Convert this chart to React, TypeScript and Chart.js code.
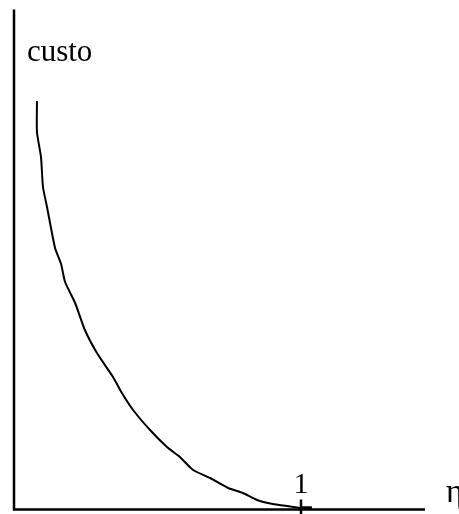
import React, { useEffect, useRef } from "react";
import { Chart, registerables } from "chart.js";

Chart.register(...registerables);

// Curve: cost vs eta (arbitrary units, eta = 1 at the tick)
const curveX = [0.080, 0.080, 0.094, 0.101, 0.115, 0.143, 0.164, 0.178, 0.213, 0.247, 0.289, 0.345, 0.376, 0.415, 0.474, 0.533, 0.578, 0.624, 0.683, 0.746, 0.798, 0.847, 0.902, 0.951, 0.997];
const curveY = [4.085, 3.775, 3.525, 3.225, 3.025, 2.615, 2.455, 2.275, 2.065, 1.795, 1.565, 1.325, 1.165, 0.995, 0.795, 0.625, 0.525, 0.395, 0.315, 0.215, 0.165, 0.095, 0.055, 0.035, 0.015];
const tailX = [0.997, 1.038];
const tailY = [0.015, 0.015];

const yAxisTop = 5.0;
const xAxisEnd = 1.432;
const tickValue = 1;
const tickLabels = ["1"];
const yLabel = "custo";
const xLabel = "η";

const X_MIN = -0.0488;
const X_MAX = 1.5505;
const Y_MIN = -0.045;
const Y_MAX = 5.095;

const labelsPlugin = {
  id: "labelsPlugin",
  afterDatasetsDraw(chart: any) {
    const { ctx, scales } = chart;
    const xs = scales.x;
    const ys = scales.y;
    ctx.save();
    ctx.fillStyle = "#000";
    ctx.font = "31px 'Liberation Serif', 'Times New Roman', serif";
    ctx.textBaseline = "alphabetic";
    ctx.textAlign = "left";
    ctx.fillText(yLabel, xs.getPixelForValue(0.045), ys.getPixelForValue(4.485));
    ctx.font = "30px 'Liberation Serif', 'Times New Roman', serif";
    ctx.textAlign = "center";
    ctx.fillText(tickLabels[0], xs.getPixelForValue(tickValue), ys.getPixelForValue(0.165));
    ctx.font = "33px 'Liberation Serif', 'Times New Roman', serif";
    ctx.textAlign = "left";
    ctx.fillText(xLabel, xs.getPixelForValue(1.505), ys.getPixelForValue(0.075));
    ctx.restore();
  },
};

export default function App() {
  const ref = useRef<HTMLCanvasElement | null>(null);
  useEffect(() => {
    if (!ref.current) return;
    const chart = new Chart(ref.current, {
      type: "scatter",
      data: {
        datasets: [
          {
            data: [
              { x: 0, y: yAxisTop },
              { x: 0, y: 0 },
              { x: xAxisEnd, y: 0 },
            ],
            showLine: true,
            borderColor: "#000",
            borderWidth: 2.5,
            pointRadius: 0,
            tension: 0,
          },
          {
            data: [
              { x: tickValue, y: 0.1 },
              { x: tickValue, y: Y_MIN },
            ],
            showLine: true,
            borderColor: "#000",
            borderWidth: 2.5,
            pointRadius: 0,
          },
          {
            data: curveX.map((x, i) => ({ x, y: curveY[i] })),
            showLine: true,
            borderColor: "#000",
            borderWidth: 2,
            pointRadius: 0,
            tension: 0.2,
          },
          {
            data: tailX.map((x, i) => ({ x, y: tailY[i] })),
            showLine: true,
            borderColor: "#000",
            borderWidth: 3.5,
            pointRadius: 0,
          },
        ],
      },
      options: {
        responsive: false,
        animation: false,
        layout: { padding: 0 },
        plugins: { legend: { display: false }, tooltip: { enabled: false } },
        scales: {
          x: { type: "linear", min: X_MIN, max: X_MAX, display: false },
          y: { type: "linear", min: Y_MIN, max: Y_MAX, display: false },
        },
      },
      plugins: [labelsPlugin],
    });
    return () => chart.destroy();
  }, []);
  return (
    <div style={{ position: "absolute", left: 0, top: 0, width: 459, height: 514, background: "#fff" }}>
      <canvas ref={ref} width={459} height={514} style={{ display: "block" }} />
    </div>
  );
}
